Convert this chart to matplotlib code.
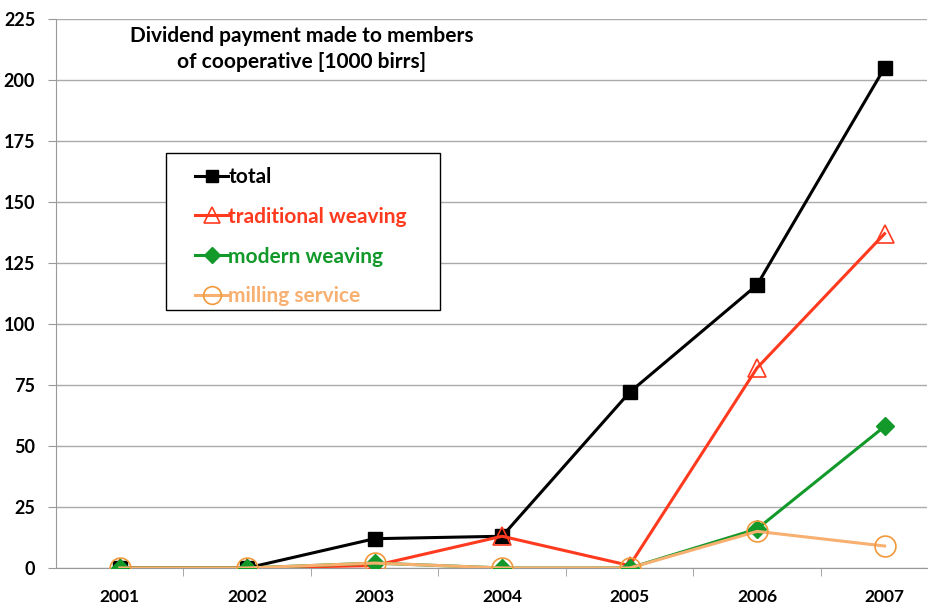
import matplotlib.pyplot as plt
from matplotlib.patches import Rectangle
from matplotlib.ticker import MultipleLocator, FixedLocator

# data
years = [2001, 2002, 2003, 2004, 2005, 2006, 2007]
total = [0, 0, 12, 13, 72, 116, 205]
traditional = [0, 0, 1, 13, 1, 82, 137]
modern = [0, 0, 2, 0, 0, 16, 58]
milling = [0, 0, 2, 0, 0, 15, 9]

plt.rcParams['font.family'] = ['Lato', 'DejaVu Sans']

W, H = 936, 607
fig = plt.figure(figsize=(W / 100, H / 100), dpi=100)
ax = fig.add_axes([0.0598, 0.0643, 0.9302, 0.9044])

ax.plot(years, total, color='black', lw=2.2, marker='s', ms=10,
        label='total', zorder=3)
ax.plot(years, traditional, color='#FF3A1E', lw=2.2, marker='^', ms=13,
        mfc='none', mec='#FF3A1E', mew=1.2, label='traditional weaving', zorder=4)
ax.plot(years, modern, color='#12992A', lw=2.2, marker='D', ms=9,
        label='modern weaving', zorder=5)
ax.plot(years, milling, color='#F8B070', lw=2.2, marker='o', ms=15,
        mfc='none', mec='#F0993A', mew=1.2, label='milling service', zorder=6)

ax.set_xlim(2000.5, 2007.33)
ax.set_ylim(0, 225)
ax.yaxis.set_major_locator(MultipleLocator(25))
ax.set_xticks(years)
ax.xaxis.set_minor_locator(FixedLocator([y + 0.5 for y in years]))
ax.tick_params(axis='x', which='major', length=0, pad=15.5, labelsize=12.5)
ax.tick_params(axis='x', which='minor', length=6, color='#999999', direction='out')
ax.tick_params(axis='y', length=6, color='#999999', labelsize=13, pad=9)
for lab in ax.get_xticklabels() + ax.get_yticklabels():
    lab.set_fontweight('bold')

ax.grid(axis='y', color='#aaaaaa', lw=1)
ax.set_axisbelow(True)
for s in ['top', 'right']:
    ax.spines[s].set_visible(False)
ax.spines['left'].set_color('#999999')
ax.spines['bottom'].set_color('#999999')

fig.text(302 / W, 1 - 26 / H, 'Dividend payment made to members\nof cooperative [1000 birrs]',
         ha='center', va='top', fontsize=15, fontweight='bold', linespacing=1.4)

# legend box drawn separately so the padding can follow the reference
fig.patches.append(Rectangle((166 / W, 1 - 310 / H), 274 / W, 157 / H,
                             transform=fig.transFigure, facecolor='white',
                             edgecolor='black', lw=1.0, zorder=7))
leg = fig.legend(*ax.get_legend_handles_labels(), loc='upper left',
                 bbox_to_anchor=(195 / W, 1 - 167 / H), frameon=False,
                 fontsize=15, handlelength=1.6, handletextpad=0.0,
                 labelspacing=0.95, borderpad=0, borderaxespad=0,
                 markerscale=0.85)
leg.set_zorder(8)
for txt, line in zip(leg.get_texts(), leg.get_lines()):
    txt.set_color(line.get_color())
    txt.set_fontweight('bold')

fig.savefig('out.png', dpi=100)
